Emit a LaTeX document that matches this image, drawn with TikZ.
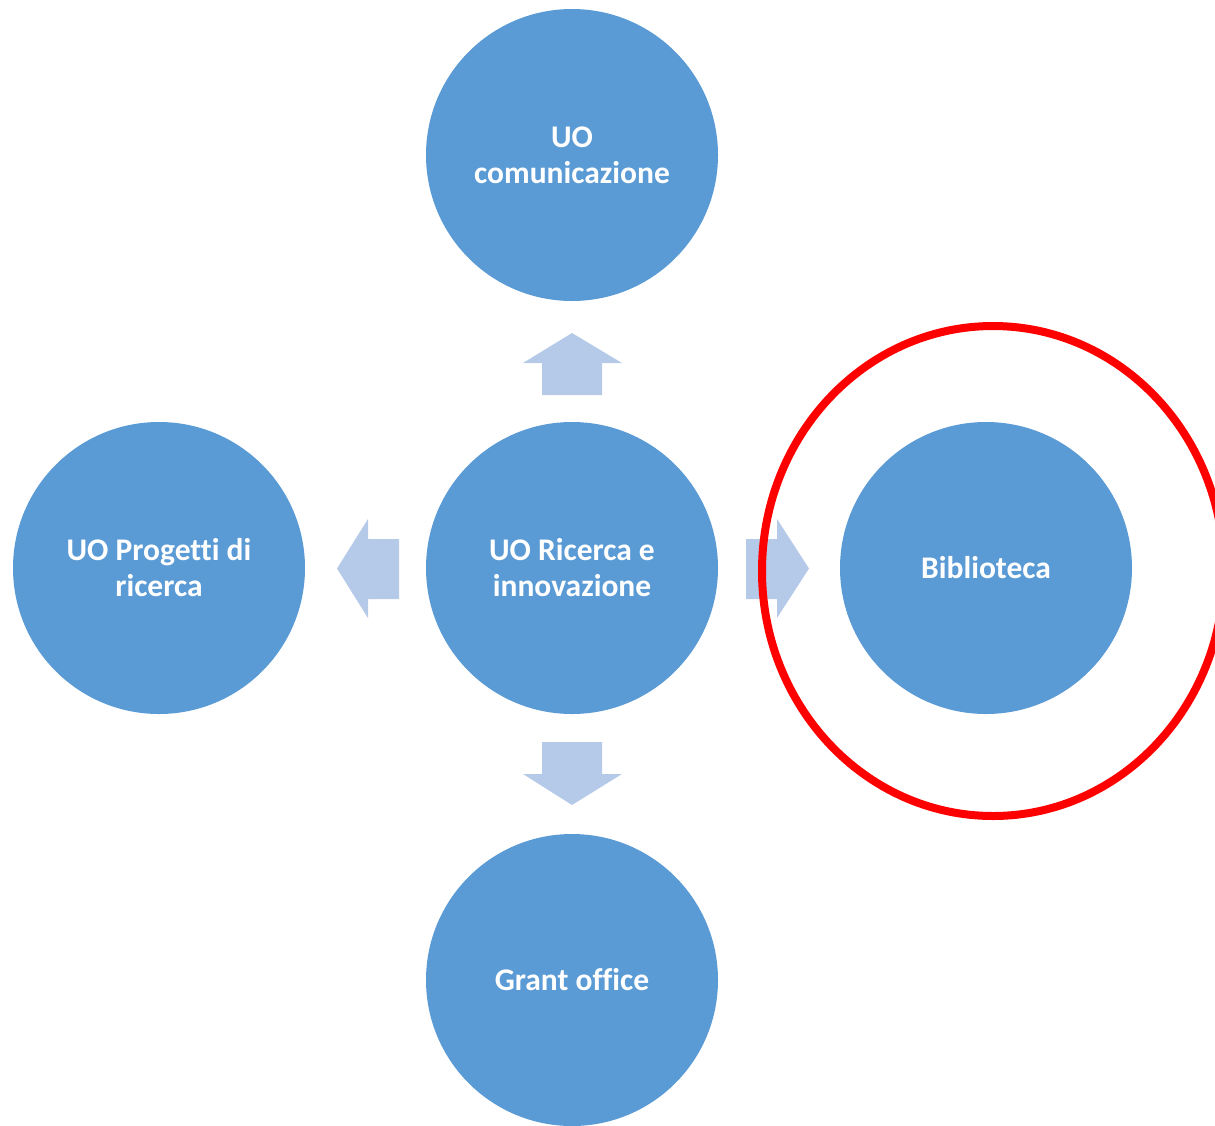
\documentclass[tikz,border=0pt]{standalone}
\usepackage{fontspec}
\setmainfont{Carlito}[Ligatures=NoCommon]
\definecolor{circblue}{HTML}{5B9BD5}
\definecolor{arrowblue}{HTML}{B5CAE8}
\definecolor{markred}{HTML}{FF0000}
\begin{document}
\begin{tikzpicture}[x=1pt,y=-1pt,
  unit/.style={circle,fill=circblue,draw=none,minimum size=292pt,inner sep=0pt,
    text=white,align=center,font=\bfseries\fontsize{31.5}{36}\selectfont},
  blockarrow/.style={fill=arrowblue,draw=none},
  highlight/.style={draw=markred,line width=8pt}]
\useasboundingbox (0,0) rectangle (1215,1125);
\clip (0,0) rectangle (1215,1125);
\node[unit] (top) at (572,155) {UO\\comunicazione};
\node[unit] (center) at (572,568) {UO Ricerca e\\innovazione};
\node[unit] (left) at (159,568) {UO Progetti di\\ricerca};
\node[unit] (right) at (986,568) {Biblioteca};
\node[unit] (bottom) at (572,980) {Grant office};
% up arrow
\fill[blockarrow] (542,395) -- (542,363) -- (523,363) -- (572,333) -- (622,363) -- (602,363) -- (602,395) -- cycle;
% down arrow
\fill[blockarrow] (542,742) -- (542,774) -- (523,774) -- (572,805) -- (622,774) -- (602,774) -- (602,742) -- cycle;
% left arrow
\fill[blockarrow] (399,539) -- (368,539) -- (368,519) -- (337,568.5) -- (368,618) -- (368,599) -- (399,599) -- cycle;
% right arrow
\fill[blockarrow] (746,539) -- (777,539) -- (777,519) -- (809,568.5) -- (777,618) -- (777,599) -- (746,599) -- cycle;
% highlight ellipse
\draw[highlight] (993,571) ellipse [x radius=231pt, y radius=245pt];
\end{tikzpicture}
\end{document}
